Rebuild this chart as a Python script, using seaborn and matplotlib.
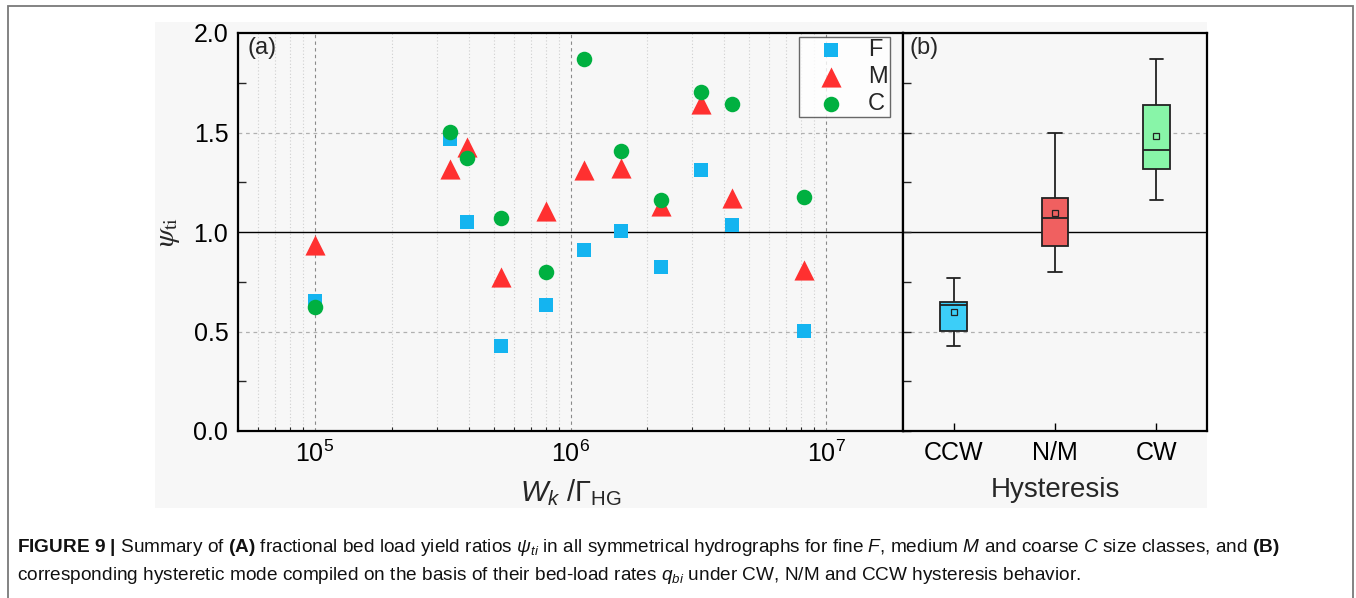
import numpy as np
import pandas as pd
import seaborn as sns
import matplotlib
matplotlib.use("Agg")
import matplotlib.pyplot as plt
from matplotlib.patches import Rectangle
from matplotlib.ticker import LogLocator, MultipleLocator, NullFormatter

# ---------------- data ----------------
wk_gamma = [1.0e5, 3.38e5, 3.94e5, 5.37e5, 8.04e5, 1.125e6, 1.58e6, 2.27e6, 3.25e6, 4.30e6, 8.22e6]
psi_F = [0.652, 1.468, 1.052, 0.426, 0.635, 0.911, 1.007, 0.823, 1.313, 1.037, 0.502]
psi_M = [0.936, 1.316, 1.425, 0.774, 1.104, 1.313, 1.324, 1.129, 1.644, 1.169, 0.808]
psi_C = [0.622, 1.502, 1.373, 1.070, 0.798, 1.870, 1.406, 1.162, 1.706, 1.644, 1.174]

hyst_modes = ["CCW", "N/M", "CW"]
psi_CCW = [0.426, 0.502, 0.635, 0.649, 0.770]
psi_NM = [0.798, 0.928, 1.069, 1.171, 1.500]
psi_CW = [1.161, 1.319, 1.413, 1.640, 1.870]

caption_1 = (r"$\mathbf{FIGURE\ 9\ |}$ Summary of $\mathbf{(A)}$ fractional bed load yield ratios "
             r"$\psi_{ti}$ in all symmetrical hydrographs for fine $F$, medium $M$ and coarse $C$ "
             r"size classes, and $\mathbf{(B)}$")
caption_2 = (r"corresponding hysteretic mode compiled on the basis of their bed-load rates "
             r"$q_{bi}$ under CW, N/M and CCW hysteresis behavior.")

# ---------------- style ----------------
sns.set_theme(style="white")
plt.rcParams["font.family"] = ["Liberation Sans", "DejaVu Sans"]
plt.rcParams["mathtext.fontset"] = "custom"
plt.rcParams["mathtext.rm"] = "Liberation Sans"
plt.rcParams["mathtext.it"] = "Liberation Sans:italic"
plt.rcParams["mathtext.bf"] = "Liberation Sans:bold"

W, H = 1356, 598
fig = plt.figure(figsize=(W / 100, H / 100), dpi=100)
fig.patch.set_facecolor("white")

BG = "#F7F7F7"
fig.add_artist(Rectangle((155 / W, 1 - 508 / H), (1207 - 155) / W, (508 - 22) / H,
                         transform=fig.transFigure, facecolor=BG, edgecolor="none", zorder=-5))
fig.add_artist(Rectangle((8 / W, -0.02), (1353 - 8) / W, 1.02 - 6 / H,
                         transform=fig.transFigure, facecolor="none", edgecolor="#7a7a7a",
                         linewidth=1.3, zorder=10))

ax_l, ax_r, ax_t, ax_b = 238, 903, 33, 431
axa = fig.add_axes([ax_l / W, 1 - ax_b / H, (ax_r - ax_l) / W, (ax_b - ax_t) / H])
axb = fig.add_axes([ax_r / W, 1 - ax_b / H, (1207 - ax_r) / W, (ax_b - ax_t) / H])

C_F, C_M, C_C = "#14B4F0", "#FF3030", "#00B040"
TICK_FS = 18

# ---------------- panel (a) ----------------
sns.scatterplot(x=wk_gamma, y=psi_F, marker="s", s=100, color=C_F, linewidth=0, label="F", ax=axa, zorder=3)
sns.scatterplot(x=wk_gamma, y=psi_M, marker="^", s=210, color=C_M, linewidth=0, label="M", ax=axa, zorder=3)
sns.scatterplot(x=wk_gamma, y=psi_C, marker="o", s=125, color=C_C, linewidth=0, label="C", ax=axa, zorder=3)
axa.set_xscale("log")
axa.set_xlim(5e4, 2e7)
axa.set_ylim(0, 2.0)
axa.set_facecolor(BG)
axa.xaxis.set_major_locator(LogLocator(base=10, numticks=10))
axa.xaxis.set_minor_locator(LogLocator(base=10, subs=np.arange(2, 10), numticks=20))
axa.xaxis.set_minor_formatter(NullFormatter())
axa.yaxis.set_major_locator(MultipleLocator(0.5))
axa.yaxis.set_minor_locator(MultipleLocator(0.25))
axa.grid(True, which="major", axis="x", color="#8a8a8a", linestyle=(0, (3, 3)), linewidth=0.8)
axa.grid(True, which="minor", axis="x", color="#cfcfcf", linestyle=(0, (1, 2)), linewidth=0.8)
for yv in (0.5, 1.5):
    axa.axhline(yv, color="#b0b0b0", linestyle=(0, (3, 3)), linewidth=0.9, zorder=1)
axa.axhline(1.0, color="black", linewidth=1.0, zorder=1)
axa.tick_params(axis="both", which="major", direction="in", length=6, width=1.0,
                labelsize=TICK_FS, pad=7, colors="black")
axa.tick_params(axis="y", which="minor", direction="in", length=6, width=1.0, left=True)
axa.tick_params(axis="x", which="minor", direction="in", length=3, width=0.8, bottom=True)
axa.set_yticks([0, 0.5, 1.0, 1.5, 2.0])
axa.set_yticklabels(["0.0", "0.5", "1.0", "1.5", "2.0"])
axa.set_xlabel(r"$W_k\ /\Gamma_{\rm HG}$", fontsize=21, labelpad=7)
axa.set_ylabel(r"$\psi_{\rm ti}$", fontsize=21, labelpad=8, math_fontfamily="stix")
axa.text(0.015, 0.99, "(a)", transform=axa.transAxes, fontsize=17, va="top", ha="left")
leg = axa.legend(loc="upper right", bbox_to_anchor=(0.9805, 0.99), borderaxespad=0,
                 frameon=True, fancybox=False, edgecolor="#444444", fontsize=17,
                 handletextpad=0.3, borderpad=0.1, labelspacing=0.2, handlelength=2.5,
                 markerscale=1.0)
leg.get_frame().set_linewidth(1.0)
leg.get_frame().set_facecolor("white")
for sp in axa.spines.values():
    sp.set_color("black")
    sp.set_linewidth(1.6)

# ---------------- panel (b) ----------------
df_b = pd.DataFrame({
    "mode": ["CCW"] * len(psi_CCW) + ["N/M"] * len(psi_NM) + ["CW"] * len(psi_CW),
    "psi": psi_CCW + psi_NM + psi_CW,
})
box_pal = {"CCW": "#3CCEF8", "N/M": "#F06060", "CW": "#88F5A8"}
sns.boxplot(data=df_b, x="mode", y="psi", hue="mode", order=hyst_modes, hue_order=hyst_modes,
            palette=box_pal, saturation=1, width=0.26, whis=(0, 100), linecolor="#222222",
            linewidth=1.3, legend=False, ax=axb, showmeans=True,
            meanprops=dict(marker="s", markerfacecolor="none", markeredgecolor="#222222",
                           markersize=4.5, markeredgewidth=0.9))
axb.set_xlim(-0.5, 2.5)
axb.set_ylim(0, 2.0)
axb.set_facecolor(BG)
for yv in (0.5, 1.5):
    axb.axhline(yv, color="#b0b0b0", linestyle=(0, (3, 3)), linewidth=0.9, zorder=0)
axb.axhline(1.0, color="black", linewidth=1.0, zorder=0.5)
axb.yaxis.set_major_locator(MultipleLocator(0.25))
axb.tick_params(axis="y", which="major", direction="in", length=6, width=1.0, left=True,
                labelleft=False)
axb.tick_params(axis="x", which="major", direction="in", length=6, width=1.0, bottom=True,
                labelsize=TICK_FS, pad=7, colors="black")
axb.set_ylabel("")
axb.set_xlabel("Hysteresis", fontsize=20, labelpad=9)
axb.text(0.023, 0.99, "(b)", transform=axb.transAxes, fontsize=17, va="top", ha="left")
for sp in axb.spines.values():
    sp.set_color("black")
    sp.set_linewidth(1.6)

# ---------------- caption ----------------
fig.text(17 / W, 1 - 548 / H, caption_1, fontsize=13.7, va="center", ha="left", color="#111111")
fig.text(17 / W, 1 - 576 / H, caption_2, fontsize=13.7, va="center", ha="left", color="#111111")

fig.savefig("out.png", dpi=100, facecolor="white")
